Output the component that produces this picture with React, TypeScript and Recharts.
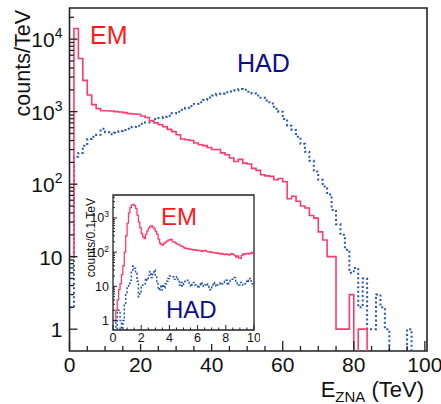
import { LineChart, Line, XAxis, YAxis, ReferenceArea } from "recharts";

// main histogram: 1.25 TeV bins, counts/TeV
const BIN_WIDTH = 1.25;
const emCounts = [
    10, 14000, 5400, 2700, 1700, 1250, 1100, 1030, 1030, 1020,
    1000, 990, 970, 940, 930, 920, 870, 830, 750, 700,
    660, 620, 570, 530, 480, 420, 410, 400, 370, 350,
    340, 320, 300, 300, 270, 255, 230, 205, 220, 195,
    190, 165, 155, 135, 130, 128, 115, 120, 108, 63,
    68, 58, 50, 47, 37, 34, 22, 17, 10, 10,
    1, 1, 1, 3, 0, 1, 1, 0, 0, 0,
    0, 0, 0, 0, 0, 0, 0, 0, 0, 0,
];
const hadCounts = [
    2, 238, 270, 340, 420, 450, 480, 580, 520, 490,
    510, 540, 560, 580, 620, 640, 680, 710, 750, 790,
    820, 850, 880, 950, 1000, 1060, 1130, 1200, 1280, 1350,
    1450, 1570, 1670, 1760, 1780, 1850, 1900, 1960, 2050, 2000,
    1880, 1780, 1670, 1550, 1430, 1300, 1100, 1000, 790, 640,
    560, 450, 360, 280, 210, 150, 115, 93, 72, 44,
    28, 20, 12.5, 6, 7, 2, 5, 1, 1, 3,
    2, 1, 0, 0, 0, 0, 1, 0, 0, 0,
];

// inset: 0.1 TeV bins, counts/0.1 TeV
const FINE_BIN = 0.1;
const emFine = [
    1, 1, 2, 4, 8, 12, 22, 40, 100, 300,
    700, 1400, 2000, 2400, 2500, 2300, 1900, 1200, 750, 520,
    350, 280, 250, 330, 420, 500, 560, 580, 540, 480,
    400, 330, 240, 185, 165, 160, 180, 195, 210, 225,
    230, 235, 200, 200, 185, 175, 165, 160, 150, 145,
    135, 130, 125, 128, 120, 122, 118, 115, 118, 112,
    110, 113, 108, 105, 110, 112, 105, 102, 100, 104,
    98, 95, 97, 92, 95, 90, 88, 92, 86, 84,
    88, 85, 82, 88, 90, 86, 80, 72, 78, 68,
    66, 80, 88, 84, 90, 92, 88, 92, 98, 90,
];
const hadFine = [
    1, 1, 0, 2, 2, 1, 0, 1, 3, 6,
    10, 12, 15, 27, 39, 34, 24, 14, 5, 7,
    10, 11, 12, 17, 15, 21, 27, 18, 25, 30,
    21, 13, 8, 10, 8, 11, 9, 12, 14, 17,
    20, 20, 19, 16, 18, 19, 15, 11, 13, 10,
    12, 14, 15, 13, 11, 10, 12, 13, 11, 10,
    9, 11, 13, 12, 10, 11, 12, 10, 8, 9,
    11, 13, 12, 10, 11, 12, 13, 12, 13, 14,
    15, 11, 13, 15, 16, 17, 18, 14, 12, 11,
    13, 12, 11, 12, 14, 13, 15, 17, 12, 11,
];

const mainXTicks = [0, 5, 10, 15, 20, 25, 30, 35, 40, 45, 50, 55, 60, 65, 70, 75, 80, 85, 90, 95, 100];
const insetXTicks = [0, 0.5, 1, 1.5, 2, 2.5, 3, 3.5, 4, 4.5, 5, 5.5, 6, 6.5, 7, 7.5, 8, 8.5, 9, 9.5, 10];
const mainDecades = [1, 10, 100, 1000, 10000];
const insetDecades = [1, 10, 100, 1000];

const EM_LINE = "#ff3a6e";
const HAD_LINE = "#2656b0";
const AXIS = "#222";
const EMPTY = 0.05; // empty bins fall below the log axis

const logTicks = (decades: number[], max: number) =>
    decades.flatMap((d) => [1, 2, 3, 4, 5, 6, 7, 8, 9].map((m) => m * d)).filter((v) => v <= max);

function histRows(em: number[], had: number[], width: number) {
    const show = (v: number) => (v > 0 ? v : EMPTY);
    const rows = em.map((v, i) => ({ x: +(i * width).toFixed(3), em: show(v), had: show(had[i]) }));
    rows.push({ x: +(em.length * width).toFixed(3), em: show(em[em.length - 1]), had: show(had[had.length - 1]) });
    return rows;
}

const mainData = histRows(emCounts, hadCounts, BIN_WIDTH);
const insetData = histRows(emFine, hadFine, FINE_BIN);

const isDecade = (v: number) => Math.abs(Math.log10(v) - Math.round(Math.log10(v))) < 1e-6;

const PowerText = ({ x, y, value, size, supSize, supDy }: any) => {
    const exp = Math.round(Math.log10(value));
    if (exp <= 1) {
        return (
            <text x={x} y={y} textAnchor="end" fontSize={size} fill="#111">
                {value}
            </text>
        );
    }
    return (
        <text x={x} y={y} textAnchor="end" fontSize={size} fill="#111">
            10
            <tspan dy={supDy} fontSize={supSize}>
                {exp}
            </tspan>
        </text>
    );
};

const MainXTick = ({ x, y, payload }: any) => {
    const major = payload.value % 20 === 0;
    return (
        <g>
            <line x1={x} x2={x} y1={y} y2={y - (major ? 10 : 5)} stroke={AXIS} strokeWidth={1.3} />
            {major && (
                <text x={x} y={y + 21} textAnchor="middle" fontSize={21} fill="#111">
                    {payload.value}
                </text>
            )}
        </g>
    );
};

const MainYTick = ({ x, y, payload }: any) => {
    const major = isDecade(payload.value);
    return (
        <g>
            <line x1={x} x2={x + (major ? 8 : 4.5)} y1={y} y2={y} stroke={AXIS} strokeWidth={1.3} />
            {major && <PowerText x={x - 7} y={y + 8} value={payload.value} size={21} supSize={14} supDy={-9} />}
        </g>
    );
};

const InsetXTick = ({ x, y, payload }: any) => {
    const major = payload.value % 2 === 0;
    return (
        <g>
            <line x1={x} x2={x} y1={y} y2={y - (major ? 5 : 2.5)} stroke={AXIS} strokeWidth={1} />
            {major && (
                <text x={x} y={y + 12} textAnchor="middle" fontSize={12.5} fill="#111">
                    {payload.value}
                </text>
            )}
        </g>
    );
};

const InsetYTick = ({ x, y, payload }: any) => {
    const major = isDecade(payload.value);
    return (
        <g>
            <line x1={x} x2={x + (major ? 4 : 2)} y1={y} y2={y} stroke={AXIS} strokeWidth={1} />
            {major && <PowerText x={x - 4} y={y + 4.5} value={payload.value} size={12.5} supSize={8.5} supDy={-5} />}
        </g>
    );
};

export default function App() {
    return (
        <div
            style={{
                position: "absolute",
                left: 0,
                top: 0,
                width: 441,
                height: 404,
                background: "#fff",
                fontFamily: "'Liberation Sans', Arial, Helvetica, sans-serif",
            }}
        >
            <div style={{ position: "absolute", left: 0, top: 0 }}>
                <LineChart width={441} height={404} data={mainData} margin={{ top: 8, right: 14, bottom: 3, left: 9.5 }}>
                    <XAxis
                        dataKey="x"
                        type="number"
                        domain={[0, 100.6]}
                        ticks={mainXTicks}
                        interval={0}
                        allowDataOverflow
                        height={50}
                        tickSize={0}
                        tickMargin={0}
                        axisLine={false}
                        tickLine={false}
                        tick={(p: any) => <MainXTick {...p} />}
                    />
                    <YAxis
                        type="number"
                        scale="log"
                        domain={[0.5, 26900]}
                        ticks={logTicks(mainDecades, 26900)}
                        interval={0}
                        allowDataOverflow
                        width={60}
                        tickSize={0}
                        tickMargin={0}
                        axisLine={false}
                        tickLine={false}
                        tick={(p: any) => <MainYTick {...p} />}
                    />
                    <Line
                        type="stepAfter"
                        dataKey="had"
                        stroke={HAD_LINE}
                        strokeWidth={2}
                        strokeDasharray="2 2.5"
                        dot={false}
                        isAnimationActive={false}
                    />
                    <Line type="stepAfter" dataKey="em" stroke={EM_LINE} strokeWidth={1.6} dot={false} isAnimationActive={false} />
                    <ReferenceArea x1={0} x2={100.6} y1={0.5} y2={26900} fill="none" stroke={AXIS} strokeWidth={1.6} />
                </LineChart>
            </div>

            <div style={{ position: "absolute", left: 80, top: 187, width: 180, height: 157, background: "#fff" }}>
                <LineChart width={180} height={157} data={insetData} margin={{ top: 8, right: 6, bottom: 2, left: 3 }}>
                    <XAxis
                        dataKey="x"
                        type="number"
                        domain={[0, 10]}
                        ticks={insetXTicks}
                        interval={0}
                        allowDataOverflow
                        height={12}
                        tickSize={0}
                        tickMargin={0}
                        axisLine={false}
                        tickLine={false}
                        tick={(p: any) => <InsetXTick {...p} />}
                    />
                    <YAxis
                        type="number"
                        scale="log"
                        domain={[0.53, 4670]}
                        ticks={logTicks(insetDecades, 4670)}
                        interval={0}
                        allowDataOverflow
                        width={30}
                        tickSize={0}
                        tickMargin={0}
                        axisLine={false}
                        tickLine={false}
                        tick={(p: any) => <InsetYTick {...p} />}
                    />
                    <Line
                        type="stepAfter"
                        dataKey="had"
                        stroke={HAD_LINE}
                        strokeWidth={1.5}
                        strokeDasharray="2 2"
                        dot={false}
                        isAnimationActive={false}
                    />
                    <Line type="stepAfter" dataKey="em" stroke={EM_LINE} strokeWidth={1.3} dot={false} isAnimationActive={false} />
                    <ReferenceArea x1={0} x2={10} y1={0.53} y2={4670} fill="none" stroke={AXIS} strokeWidth={1.3} />
                </LineChart>
            </div>

            <svg width={441} height={404} style={{ position: "absolute", left: 0, top: 0, pointerEvents: "none" }}>
                <text transform="translate(30, 10) rotate(-90)" textAnchor="end" fontSize={21.5} fill="#111">
                    counts/TeV
                </text>
                <text x={424} y={397} textAnchor="end" fontSize={22} fill="#111">
                    E
                    <tspan dy={5} fontSize={15}>
                        ZNA
                    </tspan>
                    <tspan dy={-5}> (TeV)</tspan>
                </text>
                <text x={90} y={44} fontSize={25} fill="#ff1a1a">
                    EM
                </text>
                <text x={237} y={72} fontSize={25} fill="#0d0d8c">
                    HAD
                </text>
                <text transform="translate(95, 198) rotate(-90)" textAnchor="end" fontSize={12} fill="#111">
                    counts/0.1 TeV
                </text>
                <text x={161} y={225} fontSize={24} fill="#ff1a1a">
                    EM
                </text>
                <text x={166} y={318} fontSize={24} fill="#0d0d8c">
                    HAD
                </text>
            </svg>
        </div>
    );
}
